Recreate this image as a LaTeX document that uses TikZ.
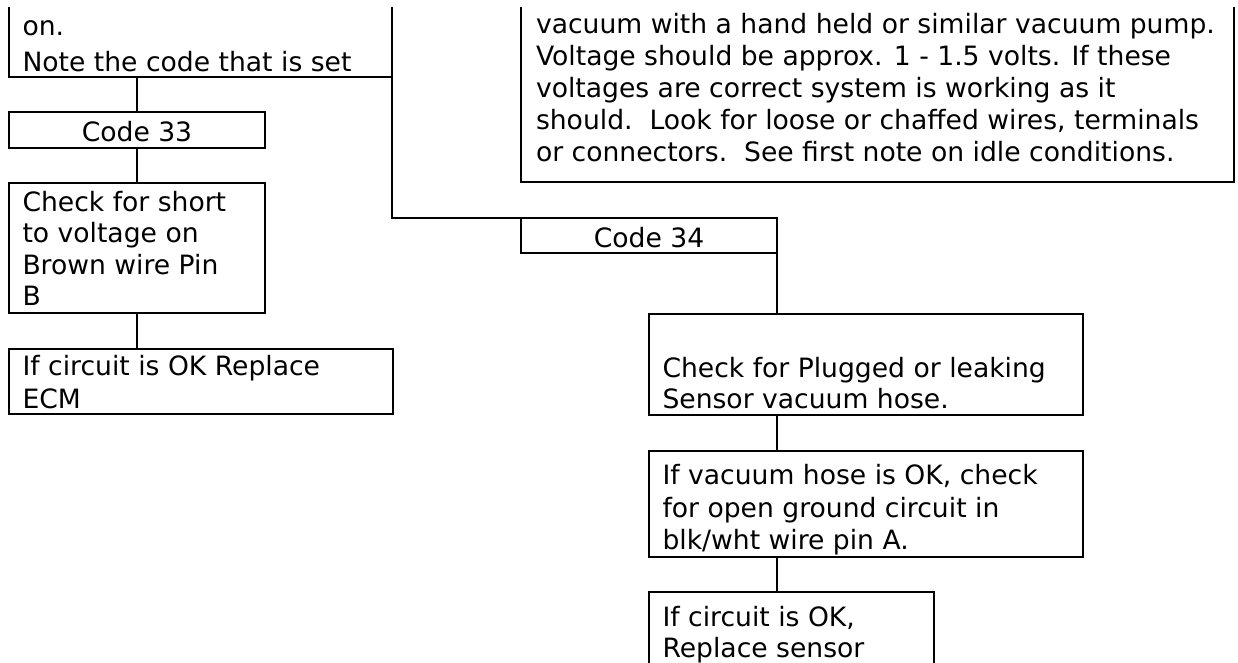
\documentclass[tikz,border=0pt]{standalone}
\usepackage{fontspec}
\setmainfont{DejaVu Sans}
\begin{document}
\begin{tikzpicture}[x=1pt,y=-1pt,
  box/.style={draw=black, line width=2pt, anchor=north west, inner sep=0pt, outer sep=0pt},
  txt/.style={anchor=base west, inner sep=0pt, outer sep=0pt, font=\fontsize{26.6}{32}\selectfont},
  ctxt/.style={anchor=base, inner sep=0pt, outer sep=0pt, font=\fontsize{26.6}{32}\selectfont},
  link/.style={draw=black, line width=2pt}]
\useasboundingbox (0,0) rectangle (1238,662);
\begin{scope}
\clip (-10,7) rectangle (1250,662);

% boxes (the two top boxes and the last one run past the page edge)
\node[box, minimum width=383pt, minimum height=87pt]  (tl)   at (9,-10)   {};
\node[box, minimum width=713pt, minimum height=192pt] (tr)   at (521,-10) {};
\node[box, minimum width=256pt, minimum height=36pt]  (c33)  at (9,112)   {};
\node[box, minimum width=256pt, minimum height=130pt] (chk)  at (9,183)   {};
\node[box, minimum width=384pt, minimum height=65pt]  (ecm)  at (9,349)   {};
\node[box, minimum width=256pt, minimum height=35pt]  (c34)  at (521,218) {};
\node[box, minimum width=434pt, minimum height=101pt] (plug) at (649,314) {};
\node[box, minimum width=434pt, minimum height=106pt] (vac)  at (649,451) {};
\node[box, minimum width=285pt, minimum height=100pt] (sen)  at (649,592) {};

% connectors
\draw[link] (tl.south -| c33.north) -- (c33.north);
\draw[link] (c33.south) -- (chk.north);
\draw[link] (chk.south) -- (chk.south |- ecm.north);
\draw[link] (tl.south east) |- (c34.north west);
\draw[link] (c34.south east) -- (c34.south east |- plug.north);
\draw[link] (plug.south -| c34.east) -- (vac.north -| c34.east);
\draw[link] (vac.south -| c34.east) -- (sen.north -| c34.east);

% texts
\node[txt] (tl1) at (22.5,35) {on.};
\node[txt] (tl2) at (22.5,71) {Note the code that is set};

\node[txt] (tr1) at (536,33.5)  {vacuum with a hand held or similar vacuum pump.};
\node[txt] (tr2) at (536,65.5)  {Voltage should be approx. 1 - 1.5 volts. If these};
\node[txt] (tr3) at (536,97.5)  {voltages are correct system is working as it};
\node[txt] (tr4) at (536,129.5) {should.~~Look for loose or chaffed wires, terminals};
\node[txt] (tr5) at (536,161.5) {or connectors.~~See first note on idle conditions.};

\node[ctxt] (c33t) at (137,141) {Code 33};

\node[txt] (chk1) at (22.5,211)   {Check for short};
\node[txt] (chk2) at (22.5,242.5) {to voltage on};
\node[txt] (chk3) at (22.5,274)   {Brown wire Pin};
\node[txt] (chk4) at (22.5,305)   {B};

\node[txt] (ecm1) at (22.5,375.7) {If circuit is OK Replace};
\node[txt] (ecm2) at (22.5,408)   {ECM};

\node[ctxt] (c34t) at (649,247) {Code 34};

\node[txt] (plug1) at (662.5,377) {Check for Plugged or leaking};
\node[txt] (plug2) at (662.5,408) {Sensor vacuum hose.};

\node[txt] (vac1) at (662.5,484) {If vacuum hose is OK, check};
\node[txt] (vac2) at (662.5,517) {for open ground circuit in};
\node[txt] (vac3) at (662.5,549) {blk/wht wire pin A.};

\node[txt] (sen1) at (662.5,626) {If circuit is OK,};
\node[txt] (sen2) at (662.5,657) {Replace sensor};
\end{scope}
\end{tikzpicture}
\end{document}
